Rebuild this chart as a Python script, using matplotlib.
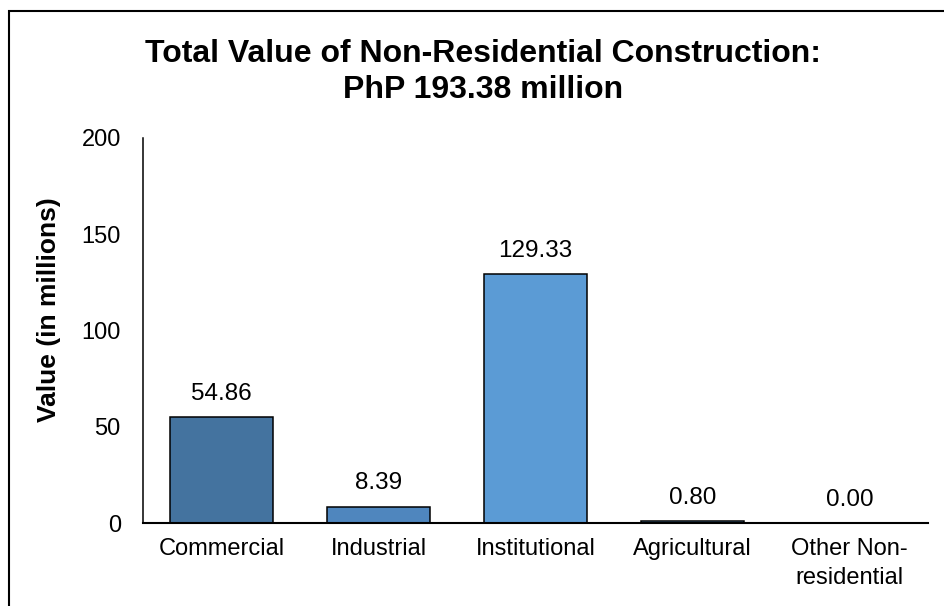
import matplotlib.pyplot as plt
from matplotlib.patches import Rectangle

plt.rcParams["font.family"] = ["Liberation Sans", "DejaVu Sans"]

# Data
categories = ["Commercial", "Industrial", "Institutional", "Agricultural", "Other Non-\nresidential"]
values = [54.86, 8.39, 129.33, 0.80, 0.00]
colors = ["#44739F", "#4F86BE", "#5B9BD5", "#5B9BD5", "#5B9BD5"]
yticks = [0, 50, 100, 150, 200]

W, H = 944, 606
fig = plt.figure(figsize=(W / 100, H / 100), dpi=100)
ax = fig.add_axes([143 / W, 83 / H, 785 / W, 385 / H])

x = list(range(len(categories)))
bars = ax.bar(x, values, width=0.66, color=colors, edgecolor="black", linewidth=1.1)

for xi, v in zip(x, values):
    ax.annotate(f"{v:.2f}", (xi, v), xytext=(0, 9), textcoords="offset points",
                ha="center", va="bottom", fontsize=17.5)

ax.set_xlim(-0.5, len(categories) - 0.5)
ax.set_ylim(0, 200)
ax.set_yticks(yticks)
ax.set_xticks(x)
ax.set_xticklabels(categories, fontsize=17, linespacing=1.4)
ax.tick_params(axis="y", length=0, pad=16, labelsize=17)
ax.tick_params(axis="x", length=0, pad=11)

for side in ["top", "right"]:
    ax.spines[side].set_visible(False)
ax.spines["left"].set_linewidth(1.1)
ax.spines["bottom"].set_linewidth(1.5)

ax.set_ylabel("Value (in millions)", fontsize=19, weight="bold")
ax.yaxis.set_label_coords(-0.105, (523 - 310) / 385)

fig.text(483 / W, 1 - 72 / H, "Total Value of Non-Residential Construction:\nPhP 193.38 million",
         ha="center", va="center", fontsize=23, weight="bold", linespacing=1.25)

# outer frame (runs off the right and bottom edges)
fig.patches.append(Rectangle((8.5 / W, -0.1), 1.2, 1 - 10.5 / H + 0.1, transform=fig.transFigure,
                             fill=False, edgecolor="black", linewidth=1.5))

plt.savefig("out.png", dpi=100)
